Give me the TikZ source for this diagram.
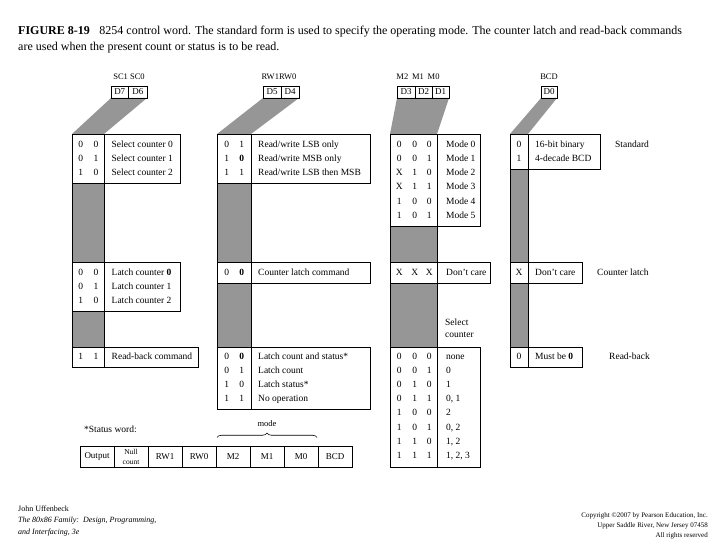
\documentclass[tikz,border=0pt]{standalone}
\usepackage{fontspec}
\setmainfont{Liberation Serif}
\usetikzlibrary{decorations.pathreplacing}
\definecolor{shadegray}{RGB}{150,150,150}
\begin{document}
\begin{tikzpicture}[x=1pt,y=-1pt,
  ln/.style={draw=black,line width=0.6pt},
  lbl/.style={font=\fontsize{9.5}{11}\selectfont,inner sep=0pt,anchor=west,text height=6.6pt,text depth=2pt},
  bitv/.style={font=\fontsize{9.5}{11}\selectfont,inner sep=0pt,text height=6.6pt,text depth=2pt},
  hdr/.style={font=\fontsize{8.5}{10}\selectfont,inner sep=0pt},
  dtxt/.style={font=\fontsize{9}{10}\selectfont,inner sep=0pt},
  side/.style={font=\fontsize{9.5}{11}\selectfont,inner sep=0pt,anchor=west,text height=6.6pt,text depth=2pt},
  cell/.style={font=\fontsize{9}{10}\selectfont,inner sep=0pt,align=center},
  foot/.style={font=\fontsize{8}{9}\selectfont,inner sep=0pt,anchor=west},
  copy/.style={font=\fontsize{7}{8}\selectfont,inner sep=0pt,anchor=east}
]
\useasboundingbox (0,0) rectangle (720,540);

% ---------- title ----------
\node[anchor=base west,inner sep=0pt,font=\fontsize{12}{14}\selectfont] (title1) at (18,35)
  {\textbf{FIGURE 8-19}\hspace{0.8em}8254 control word. The standard form is used to specify the operating mode. The counter latch and read-back commands};
\node[anchor=base west,inner sep=0pt,font=\fontsize{12}{14}\selectfont] (title2) at (18,51)
  {are used when the present count or status is to be read.};

% ---------- column 1 : SC1 SC0 ----------
\fill[shadegray] (111,98) -- (147,98) -- (104,134) -- (72,134) -- cycle;
\path[ln,fill=shadegray] (72,134) rectangle (104,347);
\path[ln,fill=white] (72,134) rectangle (180,183); \draw[ln] (104,134) -- (104,183);
\path[ln,fill=white] (72,262) rectangle (180,311); \draw[ln] (104,262) -- (104,311);
\path[ln,fill=white] (72,347) rectangle (198,367); \draw[ln] (104,347) -- (104,367);
\draw[ln] (111,86) rectangle (128.5,98);
\draw[ln] (128.5,86) rectangle (147,98);
\node[hdr] (hsc) at (129,77) {SC1 SC0};
\node[dtxt] (d7) at (119.75,92) {D7};
\node[dtxt] (d6) at (137.75,92) {D6};
\foreach \y/\a/\b/\t [count=\i] in {145/0/0/Select counter 0,159.3/0/1/Select counter 1,173.5/1/0/Select counter 2}{
  \node[bitv] (sa\i) at (80.7,\y) {\a};
  \node[bitv] (sb\i) at (96,\y) {\b};
  \node[lbl] (st\i) at (111.5,\y) {\t};
}
\foreach \y/\a/\b/\t [count=\i] in {272.7/0/0/{Latch counter \textbf{0}},287/0/1/Latch counter 1,301.3/1/0/Latch counter 2}{
  \node[bitv] (la\i) at (80.7,\y) {\a};
  \node[bitv] (lb\i) at (96,\y) {\b};
  \node[lbl] (lt\i) at (111.5,\y) {\t};
}
\node[bitv] (ra1) at (80.7,357) {1};
\node[bitv] (rb1) at (96,357) {1};
\node[lbl] (rt1) at (111.5,357) {Read-back command};

% ---------- column 2 : RW1 RW0 ----------
\fill[shadegray] (263,98) -- (299,98) -- (251,134) -- (217,134) -- cycle;
\path[ln,fill=shadegray] (217,134) rectangle (251,347);
\path[ln,fill=white] (217,134) rectangle (370,183); \draw[ln] (251,134) -- (251,183);
\path[ln,fill=white] (217,262) rectangle (370,283); \draw[ln] (251,262) -- (251,283);
\path[ln,fill=white] (217,347) rectangle (370,409); \draw[ln] (251,347) -- (251,409);
\draw[ln] (263,86) rectangle (281,98);
\draw[ln] (281,86) rectangle (299,98);
\node[hdr] (hrw) at (279,77) {RW1RW0};
\node[dtxt] (d5) at (272,92) {D5};
\node[dtxt] (d4) at (290,92) {D4};
\foreach \y/\a/\b/\t [count=\i] in {145/0/1/{Read/write LSB only},159.3/1/{\textbf{0}}/{Read/write MSB only},173.5/1/1/{Read/write LSB then MSB}}{
  \node[bitv] (wa\i) at (226.7,\y) {\a};
  \node[bitv] (wb\i) at (241.7,\y) {\b};
  \node[lbl] (wt\i) at (258,\y) {\t};
}
\node[bitv] (ca1) at (226.7,272.7) {0};
\node[bitv] (cb1) at (241.7,272.7) {\textbf{0}};
\node[lbl] (ct1) at (258,272.7) {Counter latch command};
\foreach \y/\a/\b/\t [count=\i] in {356.7/0/{\textbf{0}}/Latch count and status*,370.9/0/1/Latch count,385.1/1/0/Latch status*,399.3/1/1/No operation}{
  \node[bitv] (ka\i) at (226.7,\y) {\a};
  \node[bitv] (kb\i) at (241.7,\y) {\b};
  \node[lbl] (kt\i) at (258,\y) {\t};
}

% ---------- column 3 : M2 M1 M0 ----------
\fill[shadegray] (397,98) -- (449,98) -- (437,134) -- (390,134) -- cycle;
\path[ln,fill=shadegray] (390,134) rectangle (437,347);
\path[ln,fill=white] (390,134) rectangle (480,226); \draw[ln] (437,134) -- (437,226);
\path[ln,fill=white] (390,262) rectangle (490,283); \draw[ln] (437,262) -- (437,283);
\path[ln,fill=white] (390,347) rectangle (480,467); \draw[ln] (437,347) -- (437,467);
\draw[ln] (397,86) rectangle (415,98);
\draw[ln] (415,86) rectangle (432,98);
\draw[ln] (432,86) rectangle (449,98);
\node[hdr] (hm) at (418,77) {M2\hspace{0.45em}M1\hspace{0.45em}M0};
\node[dtxt] (d3) at (406,92) {D3};
\node[dtxt] (d2) at (423.5,92) {D2};
\node[dtxt] (d1) at (440.5,92) {D1};
\foreach \y/\a/\b/\c/\t [count=\i] in {145/0/0/0/Mode 0,159.3/0/0/1/Mode 1,173.5/X/1/0/Mode 2,187.7/X/1/1/Mode 3,201.9/1/0/0/Mode 4,216.1/1/0/1/Mode 5}{
  \node[bitv] (ma\i) at (399.3,\y) {\a};
  \node[bitv] (mb\i) at (414.7,\y) {\b};
  \node[bitv] (mc\i) at (429.3,\y) {\c};
  \node[lbl] (mt\i) at (446,\y) {\t};
}
\node[bitv] (xa1) at (399.3,272.7) {X};
\node[bitv] (xb1) at (414.7,272.7) {X};
\node[bitv] (xc1) at (429.3,272.7) {X};
\node[lbl] (xt1) at (446,272.7) {Don't care};
\node[lbl] (sel1) at (445,322.7) {Select};
\node[lbl] (sel2) at (445,335) {counter};
\foreach \y/\a/\b/\c/\t [count=\i] in {356.7/0/0/0/none,370.9/0/0/1/0,385.1/0/1/0/1,399.3/0/1/1/{0, 1},413.5/1/0/0/2,427.7/1/0/1/{0, 2},441.9/1/1/0/{1, 2},456.1/1/1/1/{1, 2, 3}}{
  \node[bitv] (na\i) at (399.3,\y) {\a};
  \node[bitv] (nb\i) at (414.7,\y) {\b};
  \node[bitv] (nc\i) at (429.3,\y) {\c};
  \node[lbl] (nt\i) at (446,\y) {\t};
}

% ---------- column 4 : BCD ----------
\fill[shadegray] (541,98) -- (557,98) -- (528,134) -- (510,134) -- cycle;
\path[ln,fill=shadegray] (510,134) rectangle (528,347);
\path[ln,fill=white] (510,134) rectangle (600,169); \draw[ln] (528,134) -- (528,169);
\path[ln,fill=white] (510,262) rectangle (582,283); \draw[ln] (528,262) -- (528,283);
\path[ln,fill=white] (510,347) rectangle (582,367); \draw[ln] (528,347) -- (528,367);
\draw[ln] (541,86) rectangle (557,98);
\node[hdr] (hbcd) at (549,77) {BCD};
\node[dtxt] (d0) at (549,92) {D0};
\node[bitv] (ba1) at (519,145) {0};
\node[lbl] (bt1) at (535,145) {16-bit binary};
\node[bitv] (ba2) at (519,159.3) {1};
\node[lbl] (bt2) at (535,159.3) {4-decade BCD};
\node[bitv] (ba3) at (519,272.7) {X};
\node[lbl] (bt3) at (535,272.7) {Don't care};
\node[bitv] (ba4) at (519,357) {0};
\node[lbl] (bt4) at (535,357) {Must be \textbf{0}};

% side labels
\node[side] (std) at (615,145) {Standard};
\node[side] (cl) at (597,272.7) {Counter latch};
\node[side] (rb) at (609,357) {Read-back};

% ---------- status word ----------
\node[lbl] (sw) at (84,430) {*Status word:};
\foreach \x/\t [count=\i] in {80/Output,114/{\fontsize{7.5}{8}\selectfont Null\\\fontsize{7.5}{8}\selectfont count},148/RW1,182/RW0,216/M2,250/M1,284/M0,318/BCD}{
  \draw[ln] (\x,446) rectangle (\x+34,467);
  \node[cell] (sc\i) at (\x+17,456.5) {\t};
}
\draw[ln,decorate,decoration={brace,amplitude=4.5pt}] (217,437.5) -- (317,437.5);
\node[hdr] (mode) at (267,424) {mode};

% ---------- footer ----------
\node[foot] (f1) at (18,509) {John Uffenbeck};
\node[foot] (f2) at (18,521) {\textit{The 80x86 Family:\ \ Design, Programming,}};
\node[foot] (f3) at (18,533) {\textit{and Interfacing, 3e}};
\node[copy] (c1) at (708,515.7) {Copyright \textcopyright 2007 by Pearson Education, Inc.};
\node[copy] (c2) at (708,525.7) {Upper Saddle River, New Jersey 07458};
\node[copy] (c3) at (708,535.7) {All rights reserved};
\end{tikzpicture}
\end{document}
